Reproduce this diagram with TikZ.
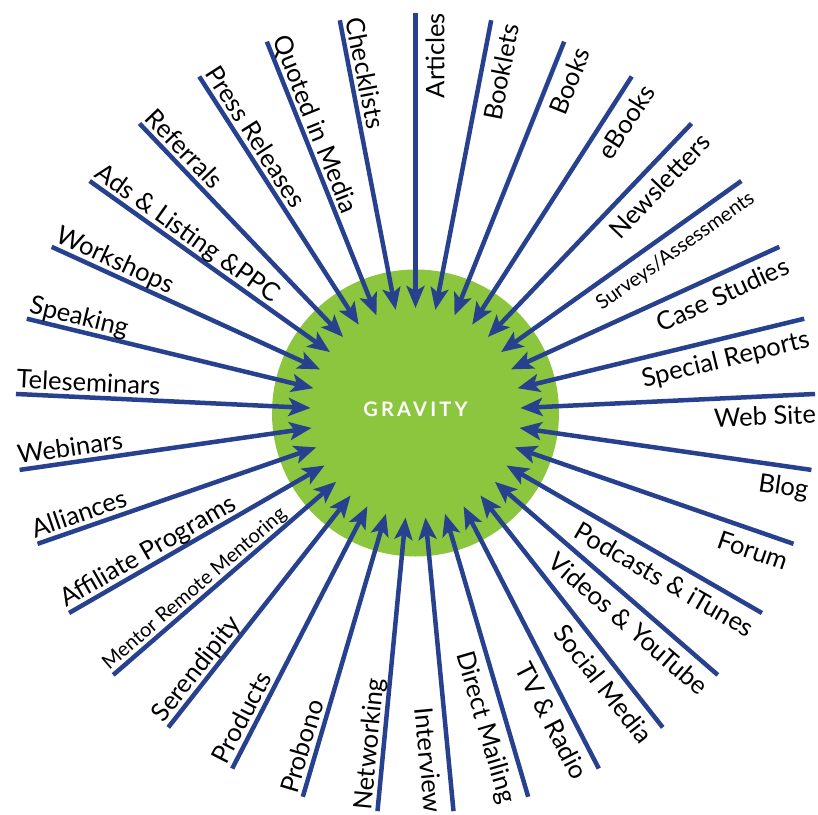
\documentclass[tikz,border=0pt]{standalone}
\usepackage{fontspec}
\setmainfont{Lato}
\usetikzlibrary{arrows.meta}
\definecolor{spoke}{HTML}{27418E}
\definecolor{grav}{HTML}{8CC63F}
\tikzset{
  spokeline/.style={draw=spoke, line width=4.5pt, -{Stealth[length=22pt,width=18pt,inset=5pt]}},
  lbl/.style={font=\fontsize{25.5}{27}\selectfont, inner sep=0pt, text=black},
  lbls/.style={font=\fontsize{20}{22}\selectfont, inner sep=0pt, text=black},
  core/.style={circle, fill=grav, minimum size=287pt, inner sep=0pt},
  coretext/.style={text=white, font=\fontsize{20}{22}\selectfont\bfseries\addfontfeature{LetterSpace=16}},
}
\begin{document}
\begin{tikzpicture}[x=1pt,y=1pt]
\useasboundingbox (-415.5,-401) rectangle (402.5,413);
\node[core] (g) at (0,0) {};
\foreach \t/\s [count=\n from 0] in {Articles/lbl, Booklets/lbl, Books/lbl, eBooks/lbl, Newsletters/lbl, {Surveys/Assessments}/lbls, Case Studies/lbl, Special Reports/lbl, Web Site/lbl, Blog/lbl, Forum/lbl, Podcasts \& iTunes/lbl, Videos \& YouTube/lbl, Social Media/lbl, TV \& Radio/lbl, Direct Mailing/lbl, Interview/lbl, Networking/lbl, Probono/lbl, Products/lbl, Serendipity/lbl, Mentor Remote Mentoring/lbls, Affiliate Programs/lbl, Alliances/lbl, Webinars/lbl, Teleseminars/lbl, Speaking/lbl, Workshops/lbl, Ads \& Listing \&PPC/lbl, Referrals/lbl, Press Releases/lbl, Quoted in Media/lbl, Checklists/lbl}{
  \pgfmathsetmacro{\a}{90-\n*360/33}
  \coordinate (o\n) at (\a:400);
  \coordinate (t\n) at (\a:105);
  \draw[spokeline] (o\n) -- (t\n);
  \ifnum\n<17
    \path (o\n) ++(\a-90:10) node[\s, rotate=\a, anchor=north east] (l\n) {\t};
  \else
    \path (o\n) ++(\a-90:6) node[\s, rotate=\a+180, anchor=base west] (l\n) {\t};
  \fi
}
\node[coretext] at (g.center) [yshift=4pt] {GRAVITY};
\end{tikzpicture}
\end{document}
